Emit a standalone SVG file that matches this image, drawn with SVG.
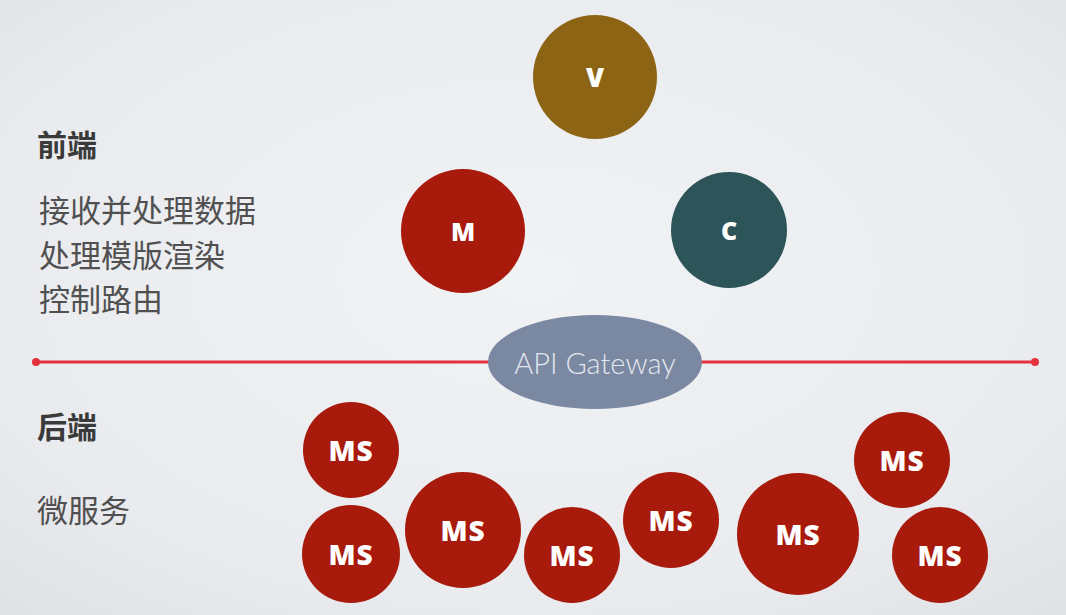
<svg xmlns="http://www.w3.org/2000/svg" width="1066" height="615" viewBox="0 0 1066 615">
<defs>
<radialGradient id="bg" cx="50%" cy="45%" r="75%">
<stop offset="0" stop-color="#f1f2f4"/>
<stop offset="0.7" stop-color="#e9ebee"/>
<stop offset="1" stop-color="#dfe1e4"/>
</radialGradient>
<style>
.hd{font-family:"Noto Sans CJK SC","Noto Sans",sans-serif;font-weight:700;font-size:30px;fill:#3a3a3a}
.tx{font-family:"Noto Sans CJK SC","Noto Sans",sans-serif;font-weight:400;font-size:31px;fill:#505050}
.lb{font-family:"Open Sans","Liberation Sans",sans-serif;font-weight:800;fill:#fff;text-anchor:middle;dominant-baseline:central}
.ms{fill:#a81a0c}
.msl{font-size:28px;letter-spacing:1px}
</style>
</defs>
<rect width="1066" height="615" fill="url(#bg)"/>
<g id="labels">
<text class="hd" x="37" y="156">前端</text>
<text class="tx" x="39" y="222">接收并处理数据</text>
<text class="tx" x="39" y="267">处理模版渲染</text>
<text class="tx" x="39" y="311">控制路由</text>
<text class="hd" x="37" y="438">后端</text>
<text class="tx" x="37" y="522">微服务</text>
</g>
<g id="connectors">
<line x1="36" y1="362" x2="1035" y2="362" stroke="#e3323e" stroke-width="3"/>
<circle cx="36" cy="362" r="4" fill="#e3323e"/>
<circle cx="1035" cy="362" r="4" fill="#e3323e"/>
</g>
<g id="node-v"><circle cx="595" cy="77" r="62" fill="#8c6414"/><text class="lb" x="595" y="77" font-size="26">V</text></g>
<g id="node-m"><circle cx="463" cy="231" r="62" fill="#a81a0c"/><text class="lb" x="463" y="231" font-size="25">M</text></g>
<g id="node-c"><circle cx="729" cy="230" r="58" fill="#2d5458"/><text class="lb" x="729" y="230" font-size="25">C</text></g>
<g id="node-gateway"><ellipse cx="595" cy="362" rx="107" ry="47" fill="#7a88a2"/><text x="595" y="362" font-family="Lato,'Open Sans',sans-serif" font-weight="300" font-size="29" fill="#e4e7ee" text-anchor="middle" dominant-baseline="central">API Gateway</text></g>
<g id="ms1"><circle class="ms" cx="351" cy="450" r="48"/><text class="lb msl" x="351" y="450">MS</text></g>
<g id="ms2"><circle class="ms" cx="351" cy="554" r="49"/><text class="lb msl" x="351" y="554">MS</text></g>
<g id="ms3"><circle class="ms" cx="463" cy="530" r="58"/><text class="lb msl" x="463" y="530">MS</text></g>
<g id="ms4"><circle class="ms" cx="572" cy="555" r="48"/><text class="lb msl" x="572" y="555">MS</text></g>
<g id="ms5"><circle class="ms" cx="671" cy="520" r="48"/><text class="lb msl" x="671" y="520">MS</text></g>
<g id="ms6"><circle class="ms" cx="798" cy="534" r="61"/><text class="lb msl" x="798" y="534">MS</text></g>
<g id="ms7"><circle class="ms" cx="902" cy="460" r="48"/><text class="lb msl" x="902" y="460">MS</text></g>
<g id="ms8"><circle class="ms" cx="940" cy="555" r="48"/><text class="lb msl" x="940" y="555">MS</text></g>
</svg>
